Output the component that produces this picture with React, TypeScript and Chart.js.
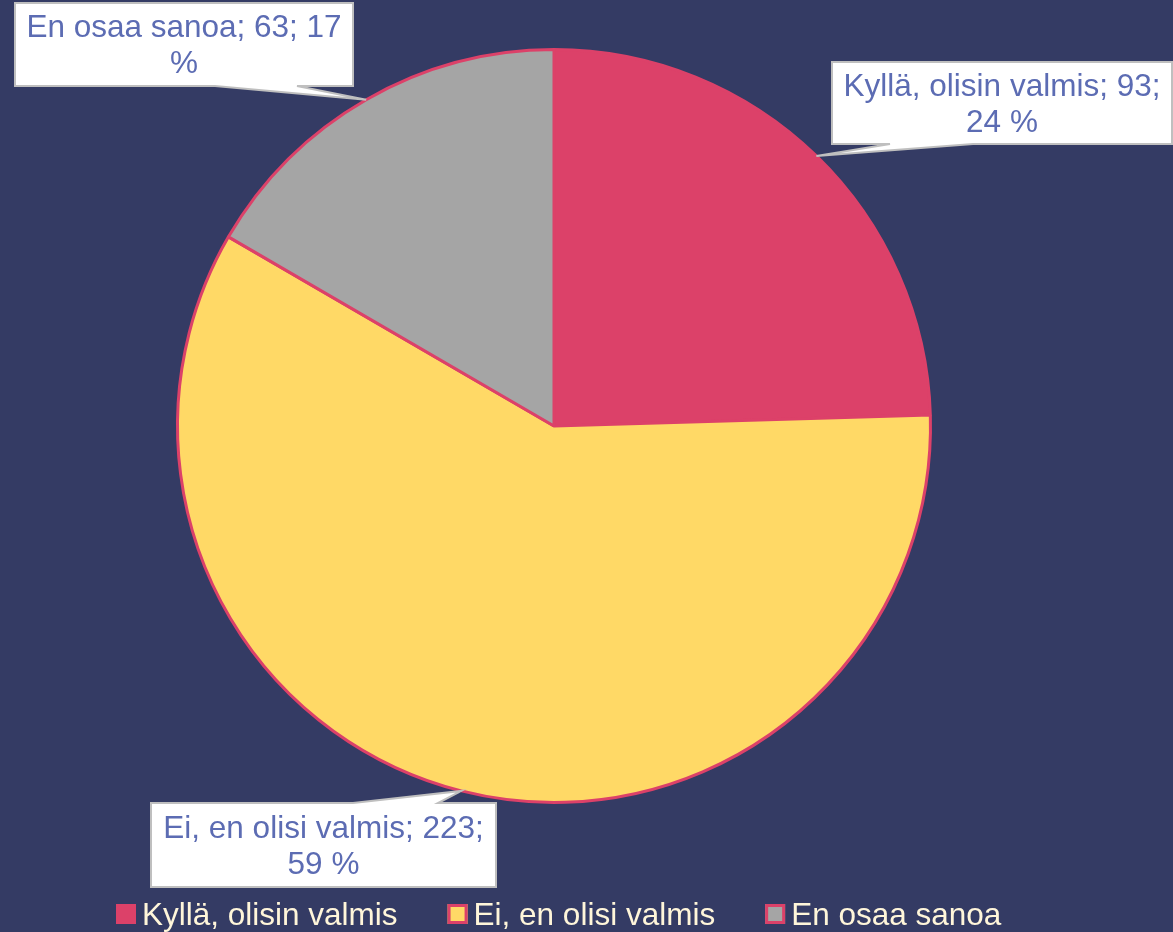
import React, { useEffect, useRef } from "react";
import { Chart, registerables } from "chart.js";

Chart.register(...registerables);

const categories = ["Kyllä, olisin valmis", "Ei, en olisi valmis", "En osaa sanoa"];
const values = [93, 223, 63];
const percentages = [24, 59, 17];
const sliceColors = ["#DC4169", "#FFD966", "#A5A5A5"];
const borderColor = "#DC4169";

const BG = "#343B64";
const FONT = '"Liberation Sans", Arial, sans-serif';
const LABEL_COLOR = "#5C6CB3";
const LEGEND_COLOR = "#FFF6DA";

// callout boxes layout (per category index)
const callouts = [
  { x: 832, y: 62, w: 340, h: 82, side: "bottom", b1: 890, b2: 973 },
  { x: 151, y: 803, w: 345, h: 84, side: "top", b1: 353, b2: 438 },
  { x: 15, y: 3, w: 338, h: 83, side: "bottom", b1: 215, b2: 297 },
];

function wrap(ctx: CanvasRenderingContext2D, text: string, maxW: number): string[] {
  const words = text.split(" ");
  const lines: string[] = [];
  let cur = "";
  for (const w of words) {
    const t = cur ? cur + " " + w : w;
    if (ctx.measureText(t).width > maxW && cur) {
      lines.push(cur);
      cur = w;
    } else cur = t;
  }
  if (cur) lines.push(cur);
  return lines;
}

const bgPlugin = {
  id: "bg",
  beforeDraw(chart: any) {
    const { ctx, width, height } = chart;
    ctx.save();
    ctx.fillStyle = BG;
    ctx.fillRect(0, 0, width, height);
    ctx.restore();
  },
};

const calloutPlugin = {
  id: "callouts",
  afterDraw(chart: any) {
    const { ctx } = chart;
    const meta = chart.getDatasetMeta(0);
    ctx.save();
    meta.data.forEach((arc: any, i: number) => {
      const p = arc.getProps(["x", "y", "startAngle", "endAngle", "outerRadius"], true);
      const mid = (p.startAngle + p.endAngle) / 2;
      const tx = p.x + Math.cos(mid) * p.outerRadius;
      const ty = p.y + Math.sin(mid) * p.outerRadius;
      const c = callouts[i];
      const x0 = c.x, x1 = c.x + c.w, y0 = c.y, y1 = c.y + c.h;
      ctx.beginPath();
      if (c.side === "bottom") {
        ctx.moveTo(x0, y0);
        ctx.lineTo(x1, y0);
        ctx.lineTo(x1, y1);
        ctx.lineTo(c.b2, y1);
        ctx.lineTo(tx, ty);
        ctx.lineTo(c.b1, y1);
        ctx.lineTo(x0, y1);
      } else {
        ctx.moveTo(x0, y0);
        ctx.lineTo(c.b1, y0);
        ctx.lineTo(tx, ty);
        ctx.lineTo(c.b2, y0);
        ctx.lineTo(x1, y0);
        ctx.lineTo(x1, y1);
        ctx.lineTo(x0, y1);
      }
      ctx.closePath();
      ctx.fillStyle = "#FFFFFF";
      ctx.fill();
      ctx.lineWidth = 2;
      ctx.strokeStyle = "#BFBFBF";
      ctx.lineJoin = "miter";
      ctx.stroke();

      const text = `${categories[i]}; ${values[i]}; ${percentages[i]} %`;
      ctx.font = `31.5px ${FONT}`;
      ctx.fillStyle = LABEL_COLOR;
      ctx.textAlign = "center";
      ctx.textBaseline = "middle";
      const lines = wrap(ctx, text, c.w - 14);
      const lh = 36;
      const cy = c.y + c.h / 2 + 2;
      lines.forEach((ln, k) => {
        ctx.fillText(ln, c.x + c.w / 2, cy + (k - (lines.length - 1) / 2) * lh);
      });
    });
    ctx.restore();
  },
};

const legendPlugin = {
  id: "customLegend",
  afterDraw(chart: any) {
    const { ctx } = chart;
    ctx.save();
    ctx.font = `31.5px ${FONT}`;
    ctx.textBaseline = "alphabetic";
    ctx.textAlign = "left";
    let x = 116;
    const y = 904;
    const s = 20;
    categories.forEach((lab, i) => {
      ctx.fillStyle = sliceColors[i];
      ctx.fillRect(x, y, s, s);
      ctx.lineWidth = 3;
      ctx.strokeStyle = borderColor;
      ctx.strokeRect(x + 1.5, y + 1.5, s - 3, s - 3);
      const tx = x + s + 6;
      ctx.fillStyle = LEGEND_COLOR;
      ctx.fillText(lab, tx, 925);
      x = tx + ctx.measureText(lab).width + 50;
    });
    ctx.restore();
  },
};

export default function App() {
  const ref = useRef<HTMLCanvasElement | null>(null);
  useEffect(() => {
    document.body.style.margin = "0";
    document.body.style.background = BG;
    if (!ref.current) return;
    const chart = new Chart(ref.current, {
      type: "pie",
      data: {
        labels: categories,
        datasets: [
          {
            data: values,
            backgroundColor: sliceColors,
            borderColor: borderColor,
            borderWidth: 3,
            hoverBorderWidth: 3,
            hoverOffset: 0,
          },
        ],
      },
      options: {
        responsive: false,
        animation: false,
        events: [],
        layout: { padding: { left: 176, right: 241, top: 48, bottom: 128 } },
        plugins: {
          legend: { display: false },
          tooltip: { enabled: false },
        },
      },
      plugins: [bgPlugin, calloutPlugin, legendPlugin],
    });
    return () => chart.destroy();
  }, []);
  return (
    <div style={{ width: 1173, height: 932 }}>
      <canvas ref={ref} width={1173} height={932} style={{ display: "block" }} />
    </div>
  );
}
